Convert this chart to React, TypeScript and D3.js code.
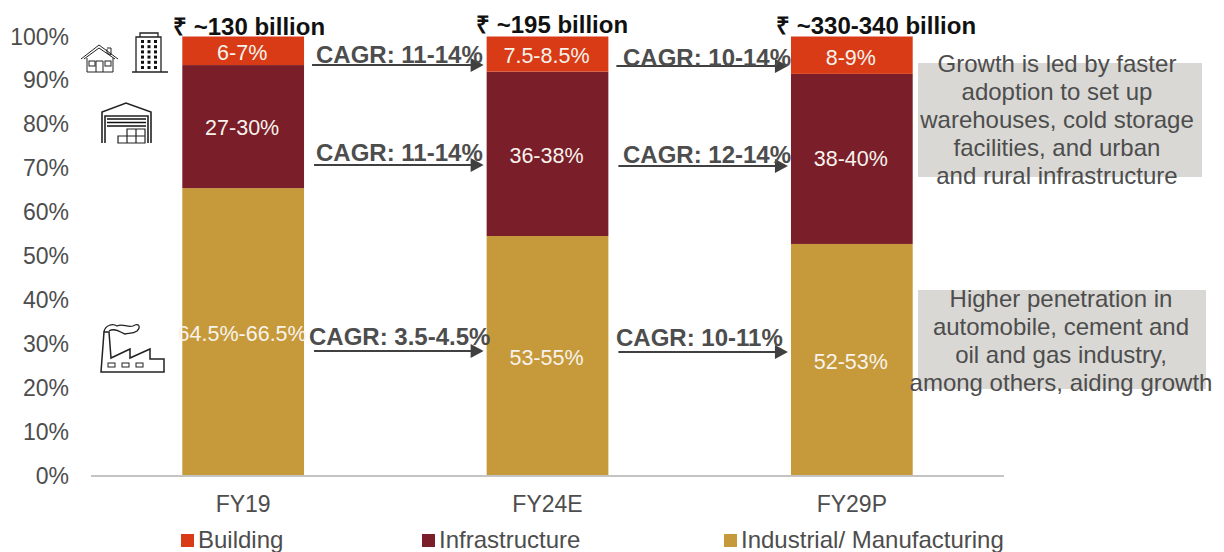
import React from "react";
import * as d3 from "d3";

const categories = ["FY19", "FY24E", "FY29P"];
const seriesNames = ["Industrial/ Manufacturing", "Infrastructure", "Building"];
const industrial = [65.5, 54.6, 52.8];
const infrastructure = [28, 37.4, 38.7];
const building = [6.5, 8, 8.5];
const industrialLabels = ["64.5%-66.5%", "53-55%", "52-53%"];
const infrastructureLabels = ["27-30%", "36-38%", "38-40%"];
const buildingLabels = ["6-7%", "7.5-8.5%", "8-9%"];
const totals = ["₹ ~130 billion", "₹ ~195 billion", "₹ ~330-340 billion"];
const yTicks = [0, 10, 20, 30, 40, 50, 60, 70, 80, 90, 100];
const cagrBuilding = ["CAGR: 11-14%", "CAGR: 10-14%"];
const cagrInfra = ["CAGR: 11-14%", "CAGR: 12-14%"];
const cagrIndustrial = ["CAGR: 3.5-4.5%", "CAGR: 10-11%"];
const noteTop = ["Growth is led by faster", "adoption to set up", "warehouses, cold storage", "facilities, and urban", "and rural infrastructure"];
const noteBottom = ["Higher penetration in", "automobile, cement and", "oil and gas industry,", "among others, aiding growth"];

const colors: Record<string, string> = {
  "Industrial/ Manufacturing": "#C69A3A",
  Infrastructure: "#7A1E2A",
  Building: "#D83B16",
};
const FONT = "'Liberation Sans', Arial, sans-serif";
const GREY = "#4D4D4D";

const x = d3.scaleBand<string>().domain(categories).range([91, 1004]).paddingInner(0.6).paddingOuter(0.3);
const y = d3.scaleLinear().domain([0, 100]).range([476, 36.5]);

const rows = categories.map((c, i) => ({
  cat: c,
  "Industrial/ Manufacturing": industrial[i],
  Infrastructure: infrastructure[i],
  Building: building[i],
}));
const stacked = d3.stack<any>().keys(seriesNames)(rows);
const labelSets = [industrialLabels, infrastructureLabels, buildingLabels];
const labelBaselines = [[341, 365, 369], [135, 163, 166], [60, 63, 65]];

function Arrow({ x1, x2, yy, label, lx, ly }: any) {
  return (
    <g>
      <line x1={x1} x2={x2 - 10} y1={yy} y2={yy} stroke="#404040" strokeWidth={2} />
      <path d={`M${x2 - 13},${yy - 7}L${x2},${yy}L${x2 - 13},${yy + 7}Z`} fill="#404040" />
      <text x={lx} y={ly} fontFamily={FONT} fontWeight={700} fontSize={24} fill={GREY}>{label}</text>
    </g>
  );
}

const iconStroke = { fill: "none", stroke: "#222", strokeWidth: 1 };

function Icons() {
  return (
    <g>
      <g transform="translate(81,45)" {...iconStroke}>
        <path d="M0,14L18,0L37,14M3,14L18,3L34,14M6,13V27H32V13M26,4V8L30,10V3H26" />
        <rect x="8" y="16" width="6" height="5" />
        <rect x="24" y="16" width="6" height="5" />
        <path d="M15,27V16H22V27" />
      </g>
      <g transform="translate(131,32)">
        <path d="M5,40V5H30V40M9,5V1H27V5M1,40H37" fill="none" stroke="#222" strokeWidth={1.3} />
        {d3.range(0, 6).map((r) =>
          d3.range(0, 3).map((k) => (
            <rect key={`${r}-${k}`} x={10 + k * 6.5} y={8 + r * 5.2} width={3} height={3} fill="#111" />
          ))
        )}
      </g>
      <g transform="translate(101,102)">
        <path d="M1,41V10L25,1L50,10V41M4,41V14H47V41" fill="none" stroke="#222" strokeWidth={1.6} />
        <path d="M6,17H45M6,20.5H45M6,24H45" stroke="#111" strokeWidth={1.6} />
        <path d="M17,41V34H26V27H44V41ZM26,34H44M26,34V41M35,27V41" fill="#fff" stroke="#222" strokeWidth={1.2} />
      </g>
      <g transform="translate(101,323)">
        <path d="M0,49L3,9H8L10,35L29,26V35L49,26V36H63V49Z" fill="none" stroke="#222" strokeWidth={1.5} />
        <path d="M3,9C4,2 12,0 16,3C22,0 26,5 32,3C38,-1 40,4 36,8C32,11 28,10 24,11C20,10 14,4 8,8" fill="none" stroke="#222" strokeWidth={1.3} />
        <rect x="7" y="40" width="7" height="4" {...iconStroke} />
        <rect x="21" y="40" width="7" height="4" {...iconStroke} />
        <rect x="35" y="40" width="7" height="4" {...iconStroke} />
      </g>
    </g>
  );
}

export default function App() {
  const bw = x.bandwidth();
  const right = (i: number) => x(categories[i])! + bw;
  const left = (i: number) => x(categories[i])!;
  return (
    <svg width={1224} height={552} style={{ position: "absolute", left: 0, top: 0, background: "#fff" }}>
      <rect x={918} y={63} width={284} height={114} fill="#D9D8D4" />
      <rect x={918} y={290} width={288} height={99} fill="#D9D8D4" />

      {stacked.map((s, si) =>
        s.map((d, i) => (
          <rect key={`${si}-${i}`} x={x(categories[i])} y={y(d[1])} width={bw} height={y(d[0]) - y(d[1])} fill={colors[s.key]} />
        ))
      )}
      {stacked.map((s, si) =>
        s.map((d, i) => (
          <text
            key={`${si}-${i}`}
            x={x(categories[i])! + bw / 2 - 1}
            y={labelBaselines[si][i]}
            textAnchor="middle"
            fontFamily={FONT}
            fontSize={21.5}
            fill="#F7F3EC"
          >
            {labelSets[si][i]}
          </text>
        ))
      )}

      <line x1={91} x2={1004} y1={y(0)} y2={y(0)} stroke="#C4C4C4" strokeWidth={2} />

      {yTicks.map((t) => (
        <text key={t} x={69} y={y(t) + 8} textAnchor="end" fontFamily={FONT} fontSize={23} fill={GREY}>{t}%</text>
      ))}
      {categories.map((c) => (
        <text key={c} x={x(c)! + bw / 2} y={512} textAnchor="middle" fontFamily={FONT} fontSize={23} fill={GREY}>{c}</text>
      ))}

      {totals.map((t, i) => (
        <text key={t} x={[173, 476, 776][i]} y={[35, 33, 34][i]} fontFamily={FONT} fontWeight={700} fontSize={24} fill="#111">{t}</text>
      ))}

      {[0, 1].map((i) => (
        <g key={i}>
          <Arrow x1={right(i) + 8} x2={left(i + 1) - 3} yy={[65, 66][i]} label={cagrBuilding[i]} lx={[316, 623][i]} ly={[63, 66][i]} />
          <Arrow x1={right(i) + 10} x2={left(i + 1) - 3} yy={[165, 166][i]} label={cagrInfra[i]} lx={[316, 623][i]} ly={[161, 163][i]} />
          <Arrow x1={right(i) + 10} x2={left(i + 1) - 3} yy={[351, 352][i]} label={cagrIndustrial[i]} lx={[309, 616][i]} ly={[345, 346][i]} />
        </g>
      ))}

      {noteTop.map((t, i) => (
        <text key={t} x={1057} y={72 + i * 28} textAnchor="middle" fontFamily={FONT} fontSize={24} fill={GREY}>{t}</text>
      ))}
      {noteBottom.map((t, i) => (
        <text key={t} x={1061} y={307 + i * 28} textAnchor="middle" fontFamily={FONT} fontSize={24} fill={GREY}>{t}</text>
      ))}

      {["Building", "Infrastructure", "Industrial/ Manufacturing"].map((n, i) => {
        const lx = [181, 422, 724][i];
        return (
          <g key={n}>
            <rect x={lx} y={534} width={13} height={13} fill={colors[n]} />
            <text x={lx + 17} y={548} fontFamily={FONT} fontSize={24} fill={GREY}>{n}</text>
          </g>
        );
      })}
      <Icons />
    </svg>
  );
}
